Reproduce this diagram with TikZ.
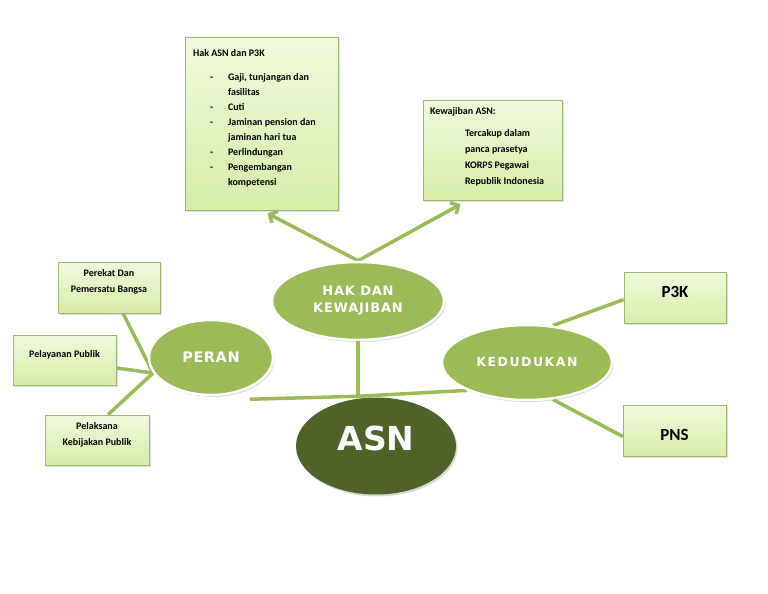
\documentclass[tikz,border=0pt]{standalone}
\usepackage{fontspec}
\setmainfont{Carlito}
\newfontfamily\hurufelips{DejaVu Sans}[UprightFont={* Bold}]
\usetikzlibrary{shapes.geometric,shadows,arrows.meta,backgrounds}
\definecolor{hijaugaris}{HTML}{9BBB59}
\definecolor{hijauelips}{HTML}{9BBB59}
\definecolor{hijautua}{HTML}{4F6228}
\definecolor{kotakatas}{HTML}{F0F9DC}
\definecolor{kotakbawah}{HTML}{D6EEA8}
\definecolor{kotaktepi}{HTML}{9DB577}

% isi kotak: lebar, tinggi, jarak atas, teks
\newcommand{\isikotak}[4]{\parbox[c][#2][t]{#1}{\vspace*{#3}#4}}

\tikzset{
	kotak/.style={rectangle, draw=kotaktepi, line width=0.6pt, top color=kotakatas, bottom color=kotakbawah, inner sep=0pt,
		drop shadow={shadow xshift=2pt, shadow yshift=-2pt, opacity=0.25},
		font=\bfseries\fontsize{10}{15}\selectfont},
	elips/.style={ellipse, draw=white, line width=2.5pt, fill=hijauelips, inner sep=0pt, text=white, align=center,
		drop shadow={shadow xshift=1.5pt, shadow yshift=-2pt, opacity=0.3},
		font=\hurufelips\fontsize{13}{17}\selectfont\addfontfeature{LetterSpace=6}},
	garis/.style={draw=hijaugaris, line width=3.5pt},
	panah/.style={garis, -{Straight Barb[length=6pt,width=13pt]}},
}

\begin{document}
\begin{tikzpicture}[x=1pt,y=-1pt]
	\useasboundingbox (0,0) rectangle (768,594);

	% kotak-kotak
	\node[kotak] (hakasn) at (261.5,123.5) {\isikotak{153pt}{173pt}{9pt}{%
		\bfseries
		\begin{tabular}[t]{@{\hspace{25pt}}l@{\hspace{15pt}}l}
			\multicolumn{2}{@{\hspace{8pt}}l}{Hak ASN dan P3K}\\[9pt]
			- & Gaji, tunjangan dan\\
			  & fasilitas\\
			- & Cuti\\
			- & Jaminan pension dan\\
			  & jaminan hari tua\\
			- & Perlindungan\\
			- & Pengembangan\\
			  & kompetensi
		\end{tabular}}};
	\node[kotak] (kewajiban) at (492.5,150) {\isikotak{139pt}{100pt}{3pt}{%
		\bfseries\fontsize{10}{16}\selectfont
		\begin{tabular}[t]{@{\hspace{7pt}}l}
			Kewajiban ASN:\\[6pt]
			\hspace{35pt}Tercakup dalam\\
			\hspace{35pt}panca prasetya\\
			\hspace{35pt}KORPS Pegawai\\
			\hspace{35pt}Republik Indonesia
		\end{tabular}}};
	\node[kotak] (perekat) at (109,287.5) {\isikotak{102pt}{51pt}{7pt}{\centering\bfseries\fontsize{10}{16}\selectfont Perekat Dan\\Pemersatu Bangsa}};
	\node[kotak] (pelayanan) at (64.5,360) {\isikotak{103pt}{50pt}{15pt}{\centering\bfseries Pelayanan Publik}};
	\node[kotak] (pelaksana) at (97,440) {\isikotak{104pt}{50pt}{7pt}{\centering\bfseries\fontsize{10}{16}\selectfont Pelaksana\\Kebijakan Publik}};
	\node[kotak, font=\bfseries\fontsize{17}{20}\selectfont] (p3k) at (675,297.5) {\isikotak{102pt}{51pt}{14pt}{\centering P3K}};
	\node[kotak, font=\bfseries\fontsize{17}{20}\selectfont] (pns) at (674.5,430.5) {\isikotak{103pt}{51pt}{24pt}{\centering PNS}};

	% elips
	\node[elips, minimum width=172pt, minimum height=78pt] (hak) at (358,301) {HAK DAN\\KEWAJIBAN};
	\node[elips, minimum width=124pt, minimum height=75pt, font=\hurufelips\fontsize{14.5}{17}\selectfont\addfontfeature{LetterSpace=4}] (peran) at (211,357.5) {PERAN};
	\node[elips, minimum width=170pt, minimum height=75pt, font=\hurufelips\fontsize{12.5}{17}\selectfont\addfontfeature{LetterSpace=12}] (kedudukan) at (527,362.5) {KEDUDUKAN};
	\node[elips, minimum width=160pt, minimum height=97pt, draw=none, fill=hijautua, text depth=16pt,
		font=\hurufelips\fontsize{33}{38}\selectfont] (asn) at (376,446) {ASN};

	\coordinate (temu) at (hak.south |- asn.north);

	% garis penghubung
	\begin{scope}[on background layer]
		\draw[panah] (hak.north) -- ([xshift=6pt,yshift=-3pt]hakasn.south);
		\draw[panah] (hak.north) -- ([xshift=-32pt,yshift=-4pt]kewajiban.south);
		\draw[garis] (hak.south) -- (temu);
		\draw[garis] ([xshift=39pt,yshift=-3pt]peran.south) -- (temu);
		\draw[garis] (kedudukan.205) -- (temu);
		\draw[garis] (peran.195) -- ([xshift=14pt]perekat.south);
		\draw[garis] (peran.195) -- ([yshift=-8pt]pelayanan.east);
		\draw[garis] (peran.195) -- ([xshift=11pt]pelaksana.north);
		\draw[garis] (kedudukan.55) -- ([yshift=-2pt]p3k.west);
		\draw[garis] (kedudukan.305) -- ([yshift=-6pt]pns.west);
	\end{scope}
\end{tikzpicture}
\end{document}
